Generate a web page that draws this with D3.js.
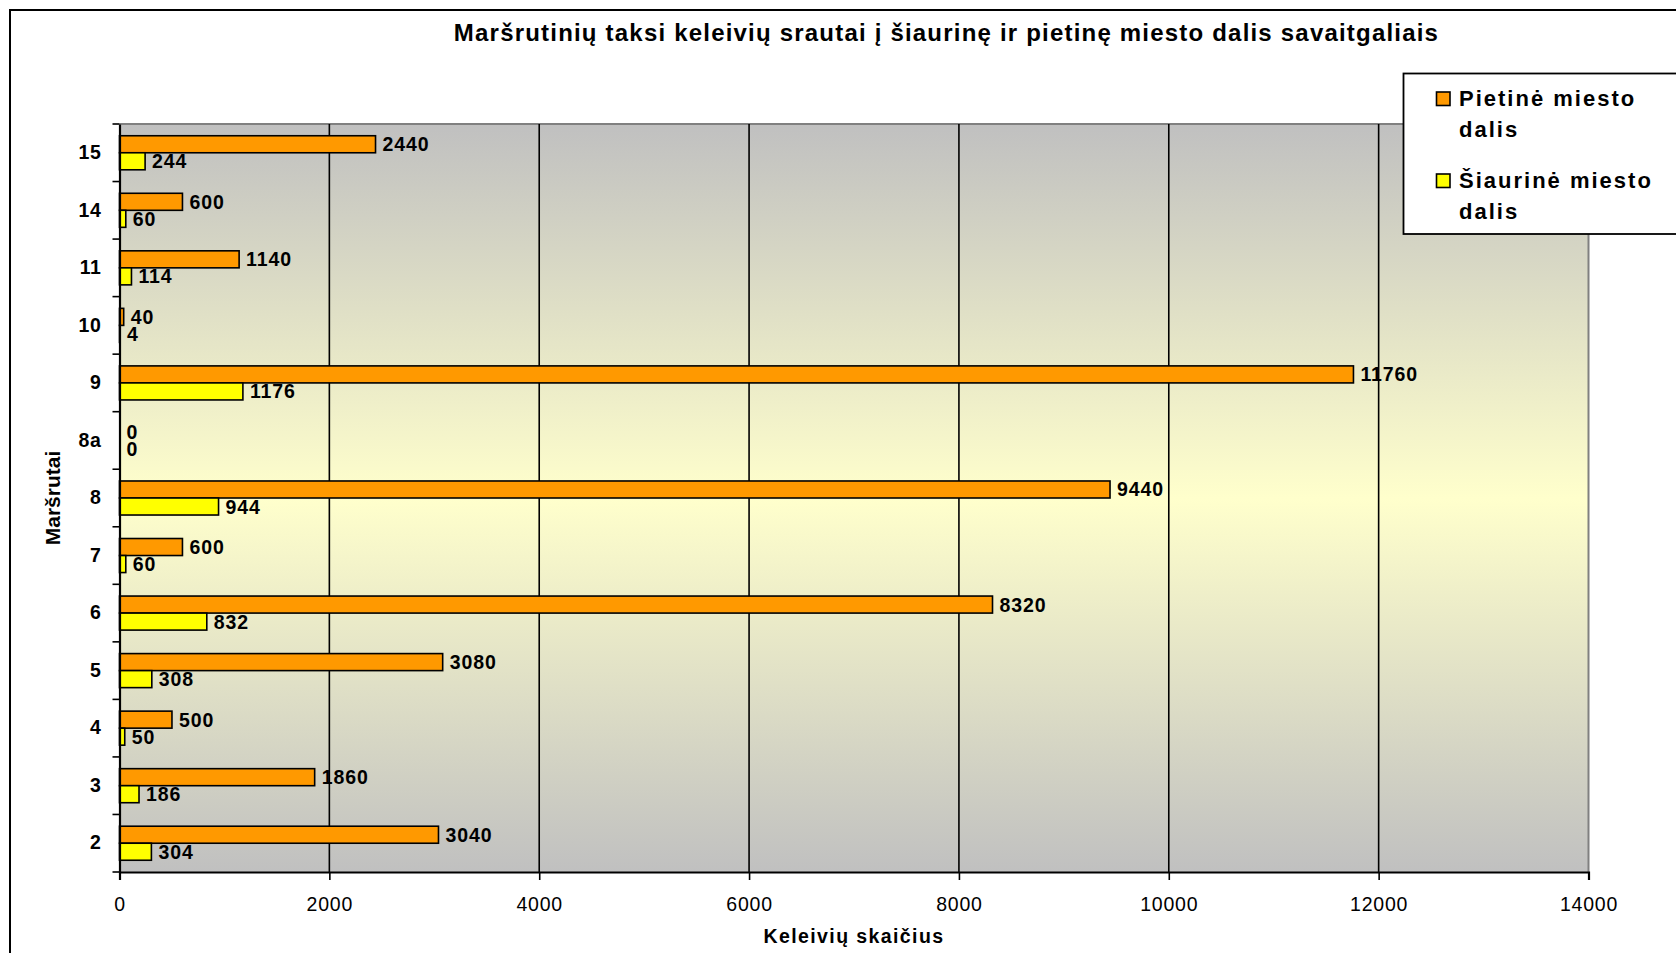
<!DOCTYPE html>
<html>
<head>
<meta charset="utf-8">
<script src="https://cdn.jsdelivr.net/npm/d3@7"></script>
<style>
  html, body { margin: 0; padding: 0; background: #fff; }
  svg { display: block; font-family: "Liberation Sans", Arial, sans-serif; }
</style>
</head>
<body>
<svg id="chart" width="1676" height="953"></svg>
<script>
// ---- data ----
const routes = ["2", "3", "4", "5", "6", "7", "8", "8a", "9", "10", "11", "14", "15"];
const southValues = [3040, 1860, 500, 3080, 8320, 600, 9440, 0, 11760, 40, 1140, 600, 2440];
const northValues = [304, 186, 50, 308, 832, 60, 944, 0, 1176, 4, 114, 60, 244];
const seriesNames = ["Pietinė miesto dalis", "Šiaurinė miesto dalis"];
const seriesLegendLines = [["Pietinė miesto", "dalis"], ["Šiaurinė miesto", "dalis"]];
const xTickValues = [0, 2000, 4000, 6000, 8000, 10000, 12000, 14000];
const titleText = "Maršrutinių taksi keleivių srautai į šiaurinę ir pietinę miesto dalis savaitgaliais";
const xTitle = "Keleivių skaičius";
const yTitle = "Maršrutai";

// ---- layout ----
const W = 1676, H = 953;
const plot = { left: 119.5, right: 1588.5, top: 124, bottom: 872 };
const colors = ["#FF9900", "#FFFF00"];

const svg = d3.select("#chart");

// outer chart border
svg.append("rect")
  .attr("x", 10).attr("y", 10)
  .attr("width", W + 20).attr("height", H + 20)
  .attr("fill", "#fff").attr("stroke", "#000").attr("stroke-width", 2);

// gradient
const defs = svg.append("defs");
const grad = defs.append("linearGradient").attr("id", "bg")
  .attr("x1", 0).attr("y1", 0).attr("x2", 0).attr("y2", 1);
grad.append("stop").attr("offset", "0%").attr("stop-color", "#c0c0c0");
grad.append("stop").attr("offset", "50%").attr("stop-color", "#ffffcc");
grad.append("stop").attr("offset", "100%").attr("stop-color", "#c0c0c0");

const x = d3.scaleLinear().domain([0, 14000]).range([plot.left, plot.right]);
const y = d3.scaleBand().domain(routes.slice().reverse()).range([plot.top, plot.bottom]);
const ySub = d3.scaleBand().domain([0, 1]).range([0, y.bandwidth()]).paddingOuter(0.69);

// plot background
svg.append("rect")
  .attr("x", plot.left).attr("y", plot.top)
  .attr("width", plot.right - plot.left).attr("height", plot.bottom - plot.top)
  .attr("fill", "url(#bg)");

// plot frame top/right (gray)
svg.append("path")
  .attr("d", `M${plot.left},${plot.top}H${plot.right}V${plot.bottom}`)
  .attr("fill", "none").attr("stroke", "#808080").attr("stroke-width", 2);

// gridlines
svg.append("g").selectAll("line")
  .data(xTickValues.filter(v => v > 0 && v < 14000))
  .join("line")
  .attr("x1", d => x(d)).attr("x2", d => x(d))
  .attr("y1", plot.top).attr("y2", plot.bottom)
  .attr("stroke", "#000").attr("stroke-width", 1.6);

// data rows
const rows = routes.map((r, i) => ({ route: r, vals: [southValues[i], northValues[i]] }));

const g = svg.append("g").selectAll("g").data(rows).join("g")
  .attr("transform", d => `translate(0,${y(d.route)})`);

g.selectAll("rect")
  .data(d => d.vals.map((v, s) => ({ v, s })).filter(e => e.v > 0))
  .join("rect")
  .attr("x", x(0))
  .attr("y", e => ySub(e.s))
  .attr("width", e => x(e.v) - x(0))
  .attr("height", ySub.bandwidth())
  .attr("fill", e => colors[e.s])
  .attr("stroke", "#000").attr("stroke-width", 1.6);

g.selectAll("text")
  .data(d => d.vals.map((v, s) => ({ v, s })))
  .join("text")
  .attr("x", e => x(e.v) + 7)
  .attr("y", e => ySub(e.s) + ySub.bandwidth() / 2)
  .attr("dy", "0.36em")
  .attr("font-size", 19.5).attr("font-weight", "bold")
  .attr("letter-spacing", 0.9)
  .attr("fill", "#000")
  .text(e => e.v);

// axes
const xAxis = svg.append("g")
  .attr("transform", `translate(0,${plot.bottom})`)
  .call(d3.axisBottom(x).tickValues(xTickValues).tickSize(8).tickPadding(17).tickFormat(d3.format("d")));
xAxis.select(".domain").attr("stroke", "#000").attr("stroke-width", 2.2);
xAxis.selectAll(".tick line").attr("stroke", "#000").attr("stroke-width", 1.6);
xAxis.selectAll(".tick text")
  .attr("font-size", 19.5).attr("font-family", "Liberation Sans, Arial, sans-serif")
  .attr("letter-spacing", 0.8).attr("fill", "#000");

const yAxis = svg.append("g")
  .attr("transform", `translate(${plot.left},0)`)
  .call(d3.axisLeft(y).tickSize(0).tickPadding(18));
yAxis.select(".domain").attr("stroke", "#000").attr("stroke-width", 2.2);
yAxis.selectAll(".tick text")
  .attr("font-size", 19.5).attr("font-weight", "bold")
  .attr("font-family", "Liberation Sans, Arial, sans-serif")
  .attr("letter-spacing", 0.6).attr("fill", "#000");

// category separator ticks
const bounds = y.domain().map(d => y(d)).concat([plot.bottom]);
svg.append("g").selectAll("line").data(bounds).join("line")
  .attr("x1", plot.left - 7).attr("x2", plot.left)
  .attr("y1", d => d).attr("y2", d => d)
  .attr("stroke", "#000").attr("stroke-width", 1.6);

// titles
svg.append("text")
  .attr("x", 946.5).attr("y", 40.5)
  .attr("text-anchor", "middle")
  .attr("font-size", 24).attr("font-weight", "bold")
  .attr("letter-spacing", 1.2)
  .text(titleText);

svg.append("text")
  .attr("x", (plot.left + plot.right) / 2).attr("y", 943)
  .attr("text-anchor", "middle")
  .attr("font-size", 19.5).attr("font-weight", "bold")
  .attr("letter-spacing", 1.4)
  .text(xTitle);

svg.append("text")
  .attr("transform", `translate(60,${(plot.top + plot.bottom) / 2}) rotate(-90)`)
  .attr("text-anchor", "middle")
  .attr("font-size", 21).attr("font-weight", "bold")
  .text(yTitle);

// legend
const legend = svg.append("g");
legend.append("rect")
  .attr("x", 1403.5).attr("y", 73.5)
  .attr("width", 400).attr("height", 160.5)
  .attr("fill", "#fff").attr("stroke", "#000").attr("stroke-width", 1.8);

const items = legend.selectAll("g.item").data(seriesNames).join("g")
  .attr("class", "item")
  .attr("transform", (d, i) => `translate(1436,${105.5 + i * 82})`);
items.append("rect")
  .attr("x", 0.5).attr("y", -13.5).attr("width", 13.5).attr("height", 13.5)
  .attr("fill", (d, i) => colors[i]).attr("stroke", "#000").attr("stroke-width", 1.6);
items.append("text")
  .attr("x", 23).attr("y", 0)
  .attr("font-size", 22).attr("font-weight", "bold").attr("letter-spacing", 2)
  .selectAll("tspan")
  .data((d, i) => seriesLegendLines[i])
  .join("tspan")
  .attr("x", 23)
  .attr("dy", (d, j) => j === 0 ? 0 : 31.5)
  .text(d => d);
</script>
</body>
</html>
